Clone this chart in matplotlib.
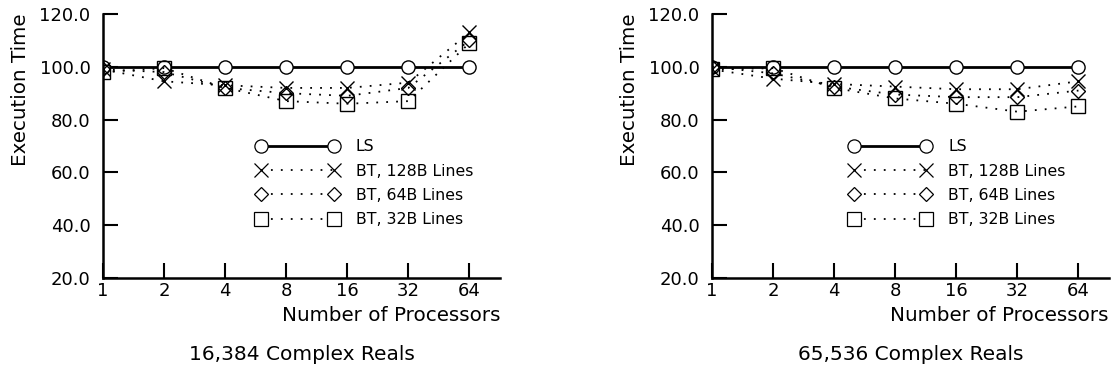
import numpy as np
import matplotlib.pyplot as plt
from matplotlib.lines import Line2D

plt.rcParams['font.family'] = ['DejaVu Sans']

procs = [1, 2, 4, 8, 16, 32, 64]
y_ticks = [20, 40, 60, 80, 100, 120]

# 16,384 complex reals
ls_16k = [100, 100, 100, 100, 100, 100, 100]
bt128_16k = [99, 94.5, 93, 92, 92, 94, 113]
bt64_16k = [99, 98, 92, 90, 89, 92, 110]
bt32_16k = [98, 99.5, 92, 87, 86, 87, 109]

# 65,536 complex reals
ls_64k = [100, 100, 100, 100, 100, 100, 100]
bt128_64k = [99, 95.5, 93.5, 92.5, 91.5, 91.5, 94.5]
bt64_64k = [100, 97.5, 92.5, 89.5, 88.5, 88.5, 91]
bt32_64k = [99, 99.5, 92, 88, 86, 83, 85]

labels = ['LS', 'BT, 128B Lines', 'BT, 64B Lines', 'BT, 32B Lines']

panels = [
    ("16,384 Complex Reals", ls_16k, bt128_16k, bt64_16k, bt32_16k),
    ("65,536 Complex Reals", ls_64k, bt128_64k, bt64_64k, bt32_64k),
]

W, H = 1112, 383
fig = plt.figure(figsize=(W / 100, H / 100), dpi=100)

ax_left = [103, 712]
leg_x = [0.387, 0.346]
ax_w = 397
ax_top, ax_bot = 14, 278

dots = (0, (1, 4.5))
styles = [
    dict(ls='-', lw=2, marker='o', ms=9.5),
    dict(ls=dots, lw=1.3, marker='x', ms=9.5),
    dict(ls=dots, lw=1.3, marker='D', ms=7),
    dict(ls=dots, lw=1.3, marker='s', ms=9.5),
]

for i, (caption, *series) in enumerate(panels):
    x0 = ax_left[i]
    ax = fig.add_axes([x0 / W, (H - ax_bot) / H, ax_w / W, (ax_bot - ax_top) / H])

    handles = []
    for k, (vals, st) in enumerate(zip(series, styles)):
        fill = 'white' if k == 0 else 'none'
        ax.plot(procs, vals, color='black', mfc=fill, mec='black', mew=1,
                zorder=2 + k, **st)
        handles.append(Line2D([], [], color='black', mfc='white', mec='black',
                              mew=0.9, **st))

    ax.set_xscale('log', base=2)
    ax.set_xlim(1, 2 ** 6.5)
    ax.set_ylim(20, 120)
    ax.set_xticks(procs)
    ax.set_xticklabels([str(p) for p in procs])
    ax.set_yticks(y_ticks)
    ax.set_yticklabels([f"{v:.1f}" for v in y_ticks])
    ax.minorticks_off()

    for s in ['top', 'right']:
        ax.spines[s].set_visible(False)
    for s in ['left', 'bottom']:
        ax.spines[s].set_linewidth(1.8)
    ax.tick_params(axis='both', direction='in', length=11, width=1.5,
                   labelsize=13, colors='black')
    ax.tick_params(axis='y', pad=9)
    ax.tick_params(axis='x', pad=3)

    ax.set_ylabel("Execution Time", fontsize=14.3, loc='top', labelpad=7)
    ax.set_xlabel("Number of Processors", fontsize=14.3, loc='right', labelpad=4)

    ax.legend(handles, labels, loc='upper left', bbox_to_anchor=(leg_x[i], 0.526),
              frameon=False, fontsize=11.3, numpoints=2, handlelength=5.2,
              handletextpad=1.1, labelspacing=0.6, borderpad=0, borderaxespad=0)

    fig.text((x0 + ax_w / 2) / W, 1 - 355 / H, caption, ha='center', va='center',
             fontsize=14.5)

fig.savefig("out.png", dpi=100)
